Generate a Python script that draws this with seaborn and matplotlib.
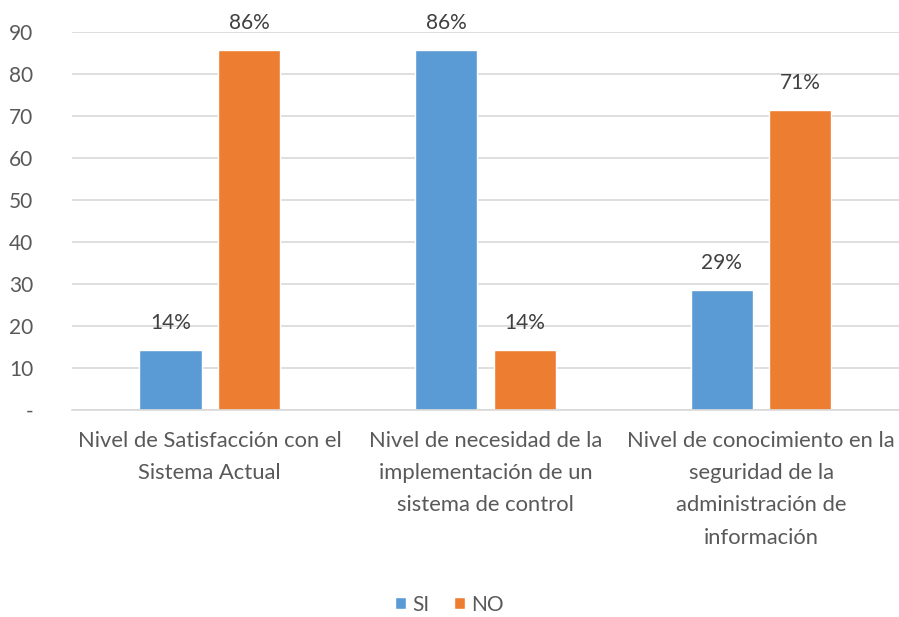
import pandas as pd
import seaborn as sns
import matplotlib.pyplot as plt

categories = [
    "Nivel de Satisfacción con el\nSistema Actual",
    "Nivel de necesidad de la\nimplementación de un\nsistema de control",
    "Nivel de conocimiento en la\nseguridad de la\nadministración de\ninformación",
]
si_values = [14.29, 85.71, 28.57]
no_values = [85.71, 14.29, 71.43]
series = ["SI", "NO"]
y_ticks = [0, 10, 20, 30, 40, 50, 60, 70, 80, 90]
y_tick_labels = ["-", "10", "20", "30", "40", "50", "60", "70", "80", "90"]

df = pd.DataFrame({
    "Categoria": categories * 2,
    "Serie": ["SI"] * 3 + ["NO"] * 3,
    "Valor": si_values + no_values,
})

sns.set_style("white")
plt.rcParams["font.family"] = ["Lato", "DejaVu Sans"]
text_color = "#595959"

fig = plt.figure(figsize=(8.99, 6.17), dpi=100)
ax = fig.add_axes([0.080, 0.3355, 0.92, 0.6125])

sns.barplot(data=df, x="Categoria", y="Valor", hue="Serie",
            hue_order=series, palette=["#5B9BD5", "#ED7D31"],
            width=0.57, gap=0.21, ax=ax, saturation=1, legend=True)

for cont in ax.containers:
    ax.bar_label(cont, labels=[f"{b.get_height():.0f}%" for b in cont],
                 padding=12, fontsize=15, color="#404040")

ax.set_ylim(0, 90)
ax.set_xlim(-0.5, 2.5)
ax.set_yticks(y_ticks)
ax.set_yticklabels(y_tick_labels)
ax.set_xticks(range(len(categories)))
ax.set_xticklabels(categories, linespacing=1.77)
ax.yaxis.grid(True, color="#D9D9D9", linewidth=1.2)
ax.set_axisbelow(True)
for side in ["top", "right", "left"]:
    ax.spines[side].set_visible(False)
ax.spines["bottom"].set_color("#D9D9D9")
ax.spines["bottom"].set_linewidth(1.2)
ax.tick_params(axis="y", length=0, pad=28, labelsize=15, labelcolor=text_color)
ax.tick_params(axis="x", length=0, pad=15, labelsize=15.8, labelcolor=text_color)
ax.set_xlabel("")
ax.set_ylabel("")

handles, labels = ax.get_legend_handles_labels()
ax.legend(handles, labels, loc="center", bbox_to_anchor=(0.5 - 0.04 / 0.92, -0.515),
          ncol=2, frameon=False, fontsize=15, labelcolor=text_color,
          handlelength=0.5, handleheight=0.5, handletextpad=0.3, columnspacing=1.2)

fig.savefig("out.png", dpi=100)
